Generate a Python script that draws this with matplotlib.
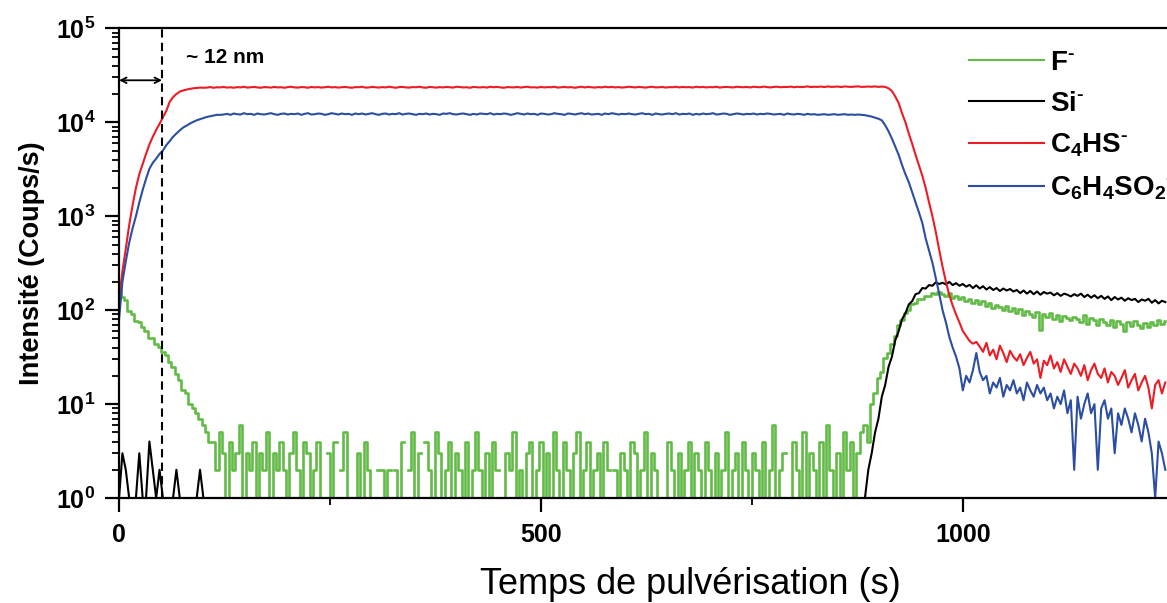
import numpy as np
import matplotlib
matplotlib.use("Agg")
import matplotlib.pyplot as plt
from matplotlib.ticker import FuncFormatter, LogLocator, MultipleLocator

plt.rcParams['font.family'] = ['Liberation Sans', 'DejaVu Sans']
plt.rcParams['mathtext.fontset'] = 'custom'
plt.rcParams['mathtext.rm'] = 'Liberation Sans:bold'
plt.rcParams['mathtext.bf'] = 'Liberation Sans:bold'
plt.rcParams['mathtext.it'] = 'Liberation Sans:bold'

# temps de pulvérisation (s), un point toutes les 4 s
temps = np.arange(0, 1241, 4)

# F- (coups/s)
f_moins = (
    [165, 138, 128, 98, 90, 76, 74, 66, 60, 51, 50, 44, 41, 36, 33, 28, 25, 21, 18, 14,
     13, 10, 9, 8, 7, 6, 5, 4]
    + [4, 2, 5, 3, 1, 4, 2, 3, 6, 1, 3, 2, 4, 1, 3, 2,
       5, 1, 3, 2, 4, 2, 1, 3, 5, 2, 1, 4, 3, 1, 2, 4,
       1, 0, 3, 1, 4, 0, 2, 5, 1, 0, 1, 3, 1, 4, 2, 1,
       0, 2, 2, 1, 2, 0, 2, 1, 4, 0, 2, 5, 1, 3, 0, 4,
       2, 1, 5, 3, 1, 2, 4, 1, 3, 2, 1, 4, 1, 2, 5, 2,
       1, 3, 1, 4, 2, 0, 1, 3, 2, 5, 1, 2, 1, 3, 4, 1,
       2, 4, 1, 3, 1, 5, 2, 1, 4, 2, 1, 3, 5, 1, 2, 4,
       1, 2, 3, 1, 4, 2, 0, 2, 1, 3, 2, 1, 4, 3, 1, 2,
       5, 1, 3, 2, 1, 0, 1, 4, 2, 1, 3, 1, 2, 4, 1, 3,
       2, 1, 4, 2, 1, 3, 1, 2, 5, 1, 2, 3, 1, 4, 2, 1,
       3, 2, 1, 4, 1, 2, 6, 1, 2, 3, 0, 1, 4, 2, 1, 5,
       1, 3, 2, 1, 4, 1, 6, 2, 1, 3, 1, 5, 2, 4, 1, 3]
    + [5, 6, 4, 10, 13, 19, 22, 31, 35, 44, 53, 70, 78, 94, 100, 115, 118, 130, 133, 143,
       142, 152, 148, 155]
    + [148, 140, 152, 135, 142, 130, 138, 125, 132, 120, 128, 115, 124, 110, 118, 105, 114, 108, 100, 112,
       98, 106, 94, 102, 88, 99, 92, 85, 96, 62, 90, 84, 93, 80, 88, 76, 86, 82, 78, 85,
       80, 74, 88, 72, 83, 78, 69, 81, 75, 70, 79, 66, 76, 72, 60, 74, 68, 77, 70, 64,
       73, 67, 75, 69, 78, 71, 76]
)

# Si- (coups/s)
si_moins = (
    [1, 3, 2, 1, 0, 1, 3, 1, 1, 4, 2, 1, 2, 1, 0, 0, 1, 2, 1, 0, 0, 0, 0, 1, 2, 1]
    + [0] * 194
    + [0, 1, 2, 3, 5, 7, 12, 16, 25, 32, 48, 60, 80, 93, 115, 125, 148, 152, 172, 170,
       185, 182, 198, 190]
    + [196, 188, 200, 185, 194, 182, 190, 178, 186, 172, 184, 170, 180, 166, 176, 164, 172, 160, 170, 162,
       168, 158, 164, 152, 162, 150, 160, 148, 158, 146, 156, 150, 154, 144, 152, 142, 150, 146, 140, 148,
       142, 150, 138, 146, 136, 144, 134, 142, 132, 140, 128, 138, 130, 136, 126, 134, 128, 132, 122, 130,
       126, 132, 120, 128, 118, 126, 122]
)

# C4HS- (coups/s)
c4hs = (
    [130, 260, 450, 800, 1300, 2000, 2800, 3600, 4600, 5800, 7000, 8300, 9600, 11300, 13200, 16500,
     18500, 20000, 21200, 21800, 22300, 22700, 23000, 23200, 23400, 23300]
    + [23400, 23700, 23300, 23600, 23500, 23800, 23400, 23600, 23300, 23700, 23500, 23900, 23400, 23600, 23800, 23500, 23300, 23700, 23600, 23400,
       23800, 23500, 23600, 23300, 23700, 23900, 23500, 23400, 23700, 23600, 23300, 23800, 23500, 23700, 23400, 23600, 23900, 23500, 23700, 23400,
       23600, 23800, 23500, 23300, 23700, 23600, 23900, 23400, 23500, 23800, 23600, 23400, 23700, 23500, 23900, 23600, 23300, 23700, 23800, 23500,
       23400, 23700, 23600, 23900, 23500, 23300, 23800, 23600, 23400, 23700, 23500, 23800, 23600, 23400, 23900, 23700, 23500, 23600, 23300, 23800,
       23600, 23500, 23700, 23400, 23900, 23600, 23800, 23500, 23300, 23700, 23600, 23500, 23800, 23400, 23700, 23900, 23500, 23600, 23400, 23800,
       23500, 23700, 23600, 23900, 23400, 23600, 23800, 23500, 23700, 23300, 23600, 23900, 23500, 23800, 23600, 23400, 23700, 23500, 23900, 23600,
       23800, 23500, 23700, 23400, 23600, 23900, 23700, 23500, 23800, 23600, 23400, 23700, 23900, 23500, 23600, 23800, 23400, 23700, 23600, 23900,
       23500, 23800, 23600, 23700, 23400, 23900, 23600, 23800, 23500, 23700, 23600, 23900, 23400, 23700, 23800, 23600, 23500, 23900, 23700, 23600,
       23800, 23500, 23900, 23700, 23600, 24000, 23700, 23500, 23800, 23900, 23600, 23800, 23700, 24000, 23600, 23900, 23700, 23800, 24100, 23700,
       23900, 23800, 24000, 23700, 24100, 23800, 23900, 24000, 23700, 24100, 23900, 23800, 24000, 24100, 23800, 23900, 24000, 23900, 24100, 23800,
       24000]
    + [23800, 23000, 21500, 18800, 16000, 12500, 10000, 7600, 5900, 4500, 3500, 2700, 2000, 1400,
       1000, 680, 440, 290, 200, 145, 112, 90, 74, 60, 53, 47, 44, 46]
    + [41, 36, 45, 33, 38, 30, 42, 35, 28, 37, 32, 29, 34, 26, 31, 36, 27, 30, 19, 29,
       26, 33, 24, 28, 22, 30, 25, 21, 27, 24, 20, 26, 18, 23, 27, 21, 19, 24, 17, 22,
       20, 16, 19, 23, 15, 18, 21, 14, 17, 20, 15, 9, 16, 18, 13, 17]
)

# C6H4SO2- (coups/s)
c6h4so2 = (
    [80, 200, 330, 520, 740, 1000, 1400, 1900, 2500, 3200, 3700, 4100, 4600, 5000, 5700, 6300,
     7000, 7600, 8200, 8800, 9200, 9700, 10100, 10500, 10800, 11100, 11400, 11600, 11800, 12000, 12000]
    + [12100, 12300, 12000, 12400, 12200, 12100, 12500, 12200, 12300, 12000, 12400, 12200, 12100, 12300, 12500, 12200, 12000, 12300, 12400, 12100,
       12300, 12200, 12400, 12000, 12300, 12500, 12100, 12200, 12400, 12300, 12000, 12200, 12500, 12300, 12100, 12400, 12200, 12300, 12000, 12400,
       12200, 12400, 12100, 12300, 12500, 12200, 12000, 12300, 12400, 12100, 12300, 12200, 12500, 12100, 12300, 12400, 12200, 12000, 12300, 12200,
       12400, 12100, 12300, 12200, 12000, 12400, 12300, 12500, 12200, 12100, 12300, 12400, 12200, 12000, 12300, 12100, 12400, 12300, 12200, 12500,
       12100, 12300, 12200, 12400, 12300, 12000, 12200, 12500, 12300, 12100, 12400, 12200, 12300, 12000, 12400, 12300, 12100, 12200, 12500, 12300,
       12200, 12000, 12400, 12300, 12100, 12300, 12500, 12200, 12400, 12100, 12200, 12300, 12000, 12400, 12200, 12500, 12300, 12100, 12300, 12200,
       12400, 12200, 12100, 12300, 12500, 12200, 12300, 12000, 12400, 12200, 12100, 12300, 12400, 12200, 12500, 12100, 12300, 12200, 12400, 12000,
       12300, 12100, 12400, 12200, 12300, 12500, 12100, 12200, 12400, 12300, 12000, 12200, 12400, 12300, 12100, 12300, 12200, 12400, 12100, 12300,
       12200, 12400, 12300, 12100, 12200, 12300, 12000, 12400, 12200, 12100, 12300, 12200, 12000, 12300, 12100, 12200, 12000, 12100, 12200, 12000,
       12100, 12200, 12000, 12100, 12200, 12000, 12100, 12000]
    + [12100, 12000, 11900, 11700, 11500, 11200, 10900, 10500, 9300, 8000, 6700, 5500, 4500, 3500,
       2800, 2300, 1800, 1400, 1100, 850, 580, 430, 320, 220, 150, 100, 74, 52, 40, 32, 24, 14,
       20, 17, 23, 35]
    + [22, 18, 20, 13, 17, 15, 19, 12, 16, 14, 18, 13, 15, 11, 17, 14, 12, 16, 13, 15,
       11, 13, 9, 12, 10, 14, 8, 11, 2, 12, 7, 10, 13, 8, 10, 2, 9, 11, 7, 9,
       3, 8, 6, 9, 7, 5, 8, 6, 4, 7, 5, 3, 1, 4, 3, 2]
)

series = [
    (f_moins, '#62BB46', r'$\mathbf{F}^{\text{-}}$', 'steps-mid', 1.9),
    (si_moins, 'black', r'$\mathbf{Si}^{\text{-}}$', 'default', 1.5),
    (c4hs, '#ED1C24', r'$\mathbf{C_{4}HS}^{\text{-}}$', 'default', 1.5),
    (c6h4so2, '#2B4EA2', r'$\mathbf{C_{6}H_{4}SO_{2}}^{\text{-}}$', 'default', 1.5),
]

fig = plt.figure(figsize=(11.67, 6.03), dpi=100)
ax = fig.add_axes([0.102, 0.174, 0.898, 0.779])
ax.set_yscale('log', nonpositive='mask')

for valeurs, couleur, nom, style, ep in series:
    ax.plot(temps, np.array(valeurs, dtype=float), color=couleur, lw=ep,
            drawstyle=style, label=nom)

ax.set_xlim(0, 1242)
ax.set_ylim(1, 1e5)

# épaisseur de la couche ~12 nm
ax.axvline(51, color='black', lw=1.5, ls=(0, (4, 2.5)))
ax.annotate('', xy=(0, 2.8e4), xytext=(51, 2.8e4),
            arrowprops=dict(arrowstyle='<->', lw=1.3, color='black',
                            shrinkA=0, shrinkB=0))
ax.text(79, 4.9e4, '~ 12 nm', fontsize=15, fontweight='bold', va='center')

ax.spines['right'].set_visible(False)
for s in ['left', 'bottom', 'top']:
    ax.spines[s].set_linewidth(1.6)

ax.xaxis.set_major_locator(MultipleLocator(500))
ax.xaxis.set_minor_locator(MultipleLocator(250))
ax.yaxis.set_major_locator(LogLocator(base=10, numticks=10))
ax.yaxis.set_minor_locator(LogLocator(base=10, subs=np.arange(2, 10), numticks=20))
ax.yaxis.set_major_formatter(FuncFormatter(lambda v, p: r'$\mathbf{10^{%d}}$' % round(np.log10(v))))
ax.tick_params(which='major', direction='out', length=10, width=1.6, labelsize=18, pad=7)
ax.tick_params(which='minor', direction='out', length=5, width=1.3)
ax.tick_params(axis='x', which='major', pad=8)
ax.tick_params(top=False, right=False, which='both')
for lab in ax.get_xticklabels():
    lab.set_fontweight('bold')

ax.set_ylabel('Intensité (Coups/s)', fontsize=19.5, fontweight='bold')
ax.yaxis.set_label_coords(-0.071, 0.5)
ax.set_xlabel('Temps de pulvérisation (s)', fontsize=26)
ax.xaxis.set_label_coords(0.545, -0.147)

leg = ax.legend(loc='upper left', bbox_to_anchor=(0.80, 0.978), frameon=False,
                fontsize=20, handlelength=2.7, handletextpad=0.25, labelspacing=0.54,
                borderaxespad=0)
for ligne in leg.get_lines():
    ligne.set_linewidth(1.5)

fig.savefig('out.png', dpi=100)
